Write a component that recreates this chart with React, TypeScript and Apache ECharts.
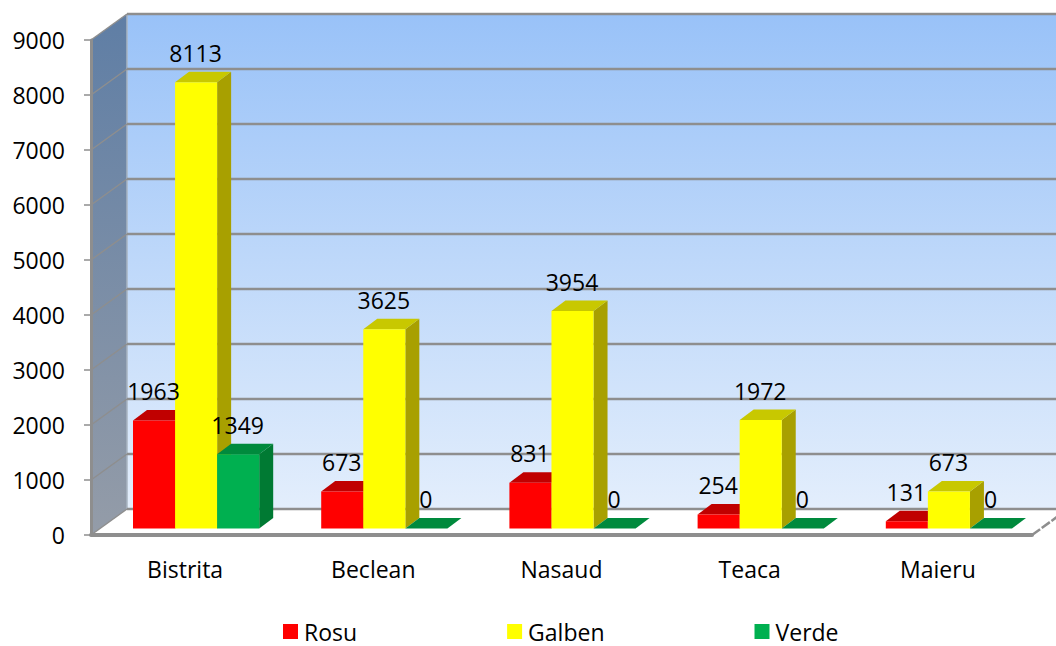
import React, { useEffect, useRef } from "react";
import * as echarts from "echarts";

const categories = ["Bistrita", "Beclean", "Nasaud", "Teaca", "Maieru"];
const rosu = [1963, 673, 831, 254, 131];
const galben = [8113, 3625, 3954, 1972, 673];
const verde = [1349, 0, 0, 0, 0];
const yTicks = [0, 1000, 2000, 3000, 4000, 5000, 6000, 7000, 8000, 9000];

const FONT = "'Open Sans', 'Noto Sans', sans-serif";
const WALL_DX = 36;
const WALL_DY = 26;
const BAR_DX = 14;
const BAR_DY = 10.5;
const BAR_SHIFT_X = 11;
const BAR_SHIFT_Y = 6.5;
const GREY = "#8e8e8e";

const palette = [
  { front: "#ff0000", top: "#c00000", side: "#a80000" },
  { front: "#ffff00", top: "#c8c800", side: "#a8a000" },
  { front: "#00b050", top: "#008a3d", side: "#007a33" },
];

function barSeries(name: string, values: number[], index: number) {
  const colors = palette[index];
  return {
    type: "custom",
    name,
    z: 3,
    silent: true,
    itemStyle: { color: colors.front },
    encode: { x: 0, y: 1 },
    data: values.map((v, i) => [i, v]),
    renderItem: (_p: any, api: any) => {
      const cat = api.value(0);
      const val = api.value(1);
      const top = api.coord([cat, val]);
      const base = api.coord([cat, 0]);
      const w = api.size([1, 0])[0] * 0.2235;
      const x0 = top[0] + BAR_SHIFT_X + (index - 1.5) * w;
      const x1 = x0 + w;
      const y0 = top[1] - BAR_SHIFT_Y;
      const y1 = base[1] - BAR_SHIFT_Y;
      const poly = (points: number[][], fill: string) => ({
        type: "polygon",
        shape: { points },
        style: { fill },
      });
      return {
        type: "group",
        children: [
          poly([[x1, y0], [x1 + BAR_DX, y0 - BAR_DY], [x1 + BAR_DX, y1 - BAR_DY], [x1, y1]], colors.side),
          poly([[x0, y0], [x0 + BAR_DX, y0 - BAR_DY], [x1 + BAR_DX, y0 - BAR_DY], [x1, y0]], colors.top),
          poly([[x0, y0], [x1, y0], [x1, y1], [x0, y1]], colors.front),
          {
            type: "text",
            z2: 100,
            style: {
              text: String(val),
              x: (x0 + x1) / 2 - 0.5,
              y: y0 - 29.5,
              align: "center",
              verticalAlign: "middle",
              fontFamily: FONT,
              fontSize: 23,
              fill: "#000000",
            },
          },
        ],
      };
    },
  };
}

const wallSeries = {
  type: "custom",
  name: "walls",
  z: 1,
  silent: true,
  encode: { x: 0, y: 1 },
  data: [[0, 0]],
  renderItem: (p: any) => {
    const { x, y, width, height } = p.coordSys;
    const r = x + width;
    const b = y + height;
    return {
      type: "group",
      children: [
        {
          type: "polygon",
          shape: { points: [[x + WALL_DX, y - WALL_DY], [r + WALL_DX, y - WALL_DY], [r + WALL_DX, b - WALL_DY], [x + WALL_DX, b - WALL_DY]] },
          style: {
            fill: new echarts.graphic.LinearGradient(0, 0, 0, 1, [
              { offset: 0, color: "#99c2f8" },
              { offset: 1, color: "#e3eefc" },
            ]),
          },
        },
        {
          type: "polygon",
          shape: { points: [[x, y], [x + WALL_DX, y - WALL_DY], [x + WALL_DX, b - WALL_DY], [x, b]] },
          style: {
            fill: new echarts.graphic.LinearGradient(0, 0, 0, 1, [
              { offset: 0, color: "#5f7ea5" },
              { offset: 1, color: "#949ca8" },
            ]),
          },
        },
        {
          type: "line",
          shape: { x1: x + WALL_DX, y1: y - WALL_DY, x2: x + WALL_DX, y2: b - WALL_DY },
          style: { stroke: "#a9b4c2", lineWidth: 1.5 },
        },
        {
          type: "line",
          shape: { x1: r, y1: b, x2: r + WALL_DX, y2: b - WALL_DY },
          style: { stroke: GREY, lineWidth: 2.5, lineDash: [10, 2] },
        },
      ],
    };
  },
};

const gridSeries = {
  type: "custom",
  name: "gridlines",
  z: 2,
  silent: true,
  encode: { x: 0, y: 1 },
  data: yTicks.map((t) => [0, t]),
  renderItem: (p: any, api: any) => {
    const { x, width } = p.coordSys;
    const yy = api.coord([0, api.value(1)])[1];
    return {
      type: "group",
      children: [
        {
          type: "line",
          shape: { x1: x + WALL_DX, y1: yy - WALL_DY, x2: x + width + WALL_DX, y2: yy - WALL_DY },
          style: { stroke: GREY, lineWidth: 2.5 },
        },
        {
          type: "line",
          shape: { x1: x, y1: yy, x2: x + WALL_DX, y2: yy - WALL_DY },
          style: { stroke: GREY, lineWidth: 1.5 },
        },
      ],
    };
  },
};

export default function App() {
  const ref = useRef<HTMLDivElement>(null);
  useEffect(() => {
    const chart = echarts.init(ref.current!, null, { renderer: "svg" });
    chart.setOption({
      animation: false,
      backgroundColor: "#ffffff",
      grid: { left: 91, top: 40, width: 941, height: 495 },
      legend: {
        left: 278,
        top: 615,
        icon: "rect",
        itemWidth: 15,
        itemHeight: 15,
        itemGap: 150,
        data: ["Rosu", "Galben", "Verde"],
        textStyle: { fontFamily: FONT, fontSize: 23, color: "#000000", padding: [0, 0, 0, 1] },
      },
      xAxis: {
        type: "category",
        data: categories,
        z: 5,
        axisLine: { lineStyle: { color: GREY, width: 4 } },
        axisTick: { length: 8, lineStyle: { color: GREY, width: 1.5 } },
        axisLabel: { margin: 22, fontFamily: FONT, fontSize: 23, color: "#000000" },
      },
      yAxis: {
        type: "value",
        min: 0,
        max: 9000,
        interval: 1000,
        z: 5,
        splitLine: { show: false },
        axisLine: { show: true, lineStyle: { color: GREY, width: 3 } },
        axisTick: { show: true, length: 7, lineStyle: { color: GREY, width: 1.5 } },
        axisLabel: {
          margin: 26,
          fontFamily: FONT,
          fontSize: 23,
          color: "#000000",
          formatter: (v: number) => String(v),
        },
      },
      series: [
        wallSeries,
        gridSeries,
        barSeries("Rosu", rosu, 0),
        barSeries("Galben", galben, 1),
        barSeries("Verde", verde, 2),
      ],
    });
    return () => chart.dispose();
  }, []);
  return <div ref={ref} style={{ position: "absolute", left: 0, top: 0, width: 1056, height: 646 }} />;
}
